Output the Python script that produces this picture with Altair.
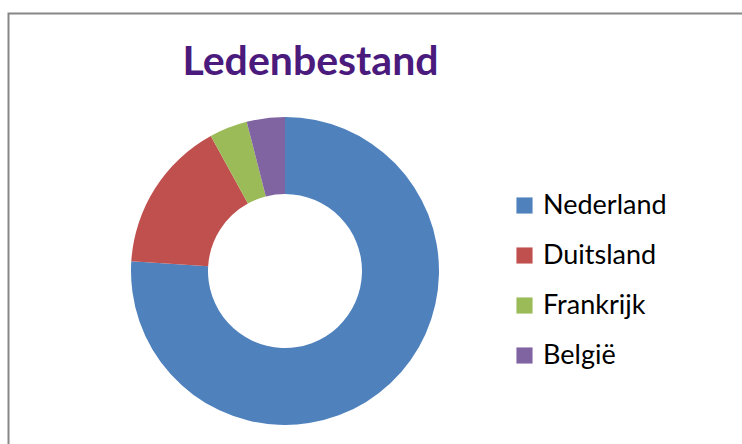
import altair as alt
import pandas as pd

# Data
countries = ["Nederland", "Duitsland", "Frankrijk", "België"]
members = [76, 16, 4, 4]
colors = ["#4F81BD", "#C0504D", "#9BBB59", "#8064A2"]
title_text = "Ledenbestand"

df = pd.DataFrame({
    "land": countries,
    "leden": members,
    "volgorde": list(range(len(countries))),
})

border = alt.Chart(pd.DataFrame({"a": [0]})).mark_rect(
    fill="transparent", stroke="#878787", strokeWidth=2
).encode(
    x=alt.value(8.5), x2=alt.value(780), y=alt.value(13.5), y2=alt.value(480)
)

arc = alt.Chart(df).mark_arc(innerRadius=77, outerRadius=154, x=285, y=271).encode(
    theta=alt.Theta("leden:Q", stack=True),
    order=alt.Order("volgorde:Q"),
    color=alt.Color(
        "land:N",
        sort=countries,
        scale=alt.Scale(domain=countries, range=colors),
        legend=alt.Legend(
            title=None,
            orient="none",
            legendX=511,
            legendY=192,
            symbolType="square",
            symbolSize=260,
            symbolStrokeWidth=0,
            labelFont="Lato",
            labelFontSize=27,
            labelColor="#000000",
            labelOffset=5,
            labelLimit=300,
            rowPadding=22,
        ),
    ),
)

title = alt.Chart(pd.DataFrame({"t": [title_text]})).mark_text(
    font="Lato", fontSize=41, fontWeight="bold", color="#4B1A7D",
    align="center", baseline="alphabetic"
).encode(
    text="t:N", x=alt.value(310.5), y=alt.value(75)
)

chart = alt.layer(border, arc, title).properties(
    width=742, height=444,
    autosize=alt.AutoSizeParams(type="none"),
    padding=0,
    background="white",
).configure_view(strokeWidth=0)

chart.save("out.html", embed_options={"renderer": "svg", "actions": False})
